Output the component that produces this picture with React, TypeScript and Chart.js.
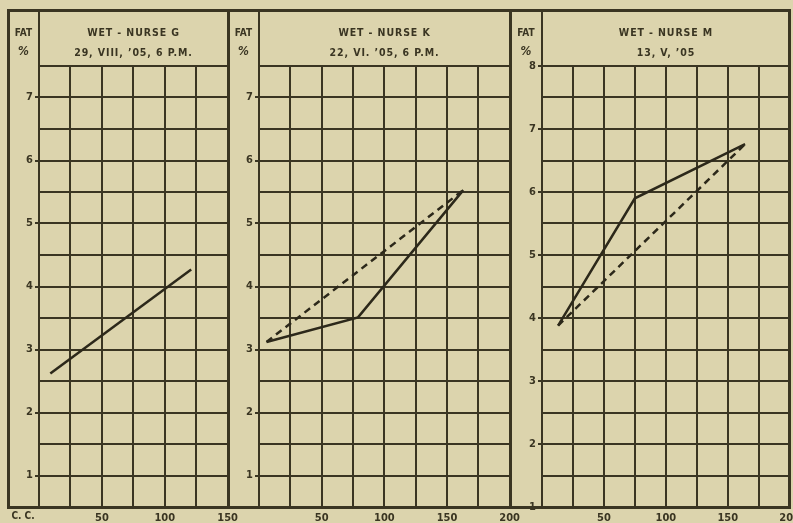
import { useEffect, useRef } from "react";
import { Chart, registerables, type ChartConfiguration } from "chart.js";

Chart.register(...registerables);

const INK = "#3a3522";
const LINE_INK = "#2c281a";
const PAPER = "#dcd4ad";
const FONT = "'DejaVu Sans Condensed', 'Liberation Sans Narrow', 'DejaVu Sans', sans-serif";

// volume drawn (c.c.) and fat %
const nurseGVolume = [9, 121];
const nurseGFat = [2.62, 4.27];

const nurseKVolume = [6, 79, 163];
const nurseKFat = [3.12, 3.51, 5.53];
const nurseKDashVolume = [6, 163];
const nurseKDashFat = [3.12, 5.53];

const nurseMVolume = [13, 75, 164];
const nurseMFat = [3.88, 5.9, 6.76];
const nurseMDashVolume = [13, 164];
const nurseMDashFat = [3.88, 6.76];

const xTickLabels = [50, 100, 150, 200];

type Series = { xs: number[]; ys: number[]; dashed?: boolean };

interface PanelProps {
  left: number;
  plotLeft: number;
  plotRight: number;
  xMax: number;
  yMin: number;
  yMax: number;
  title: string;
  subtitle: string;
  series: Series[];
}

const GRID_TOP = 66;
const GRID_BOTTOM = 507;
const CANVAS_TOP = 56;
const PAGE_H = 523;
const RIGHT_PAD = 15;

function Panel({ left, plotLeft, plotRight, xMax, yMin, yMax, title, subtitle, series }: PanelProps) {
  const canvasRef = useRef<HTMLCanvasElement>(null);

  useEffect(() => {
    if (!canvasRef.current) return;
    const config: ChartConfiguration<"line"> = {
      type: "line",
      data: {
        datasets: series.map((s) => ({
          data: s.xs.map((x, i) => ({ x, y: s.ys[i] })),
          borderColor: LINE_INK,
          borderWidth: 2.5,
          borderDash: s.dashed ? [7, 5] : [],
          pointRadius: 0,
          tension: 0,
          fill: false,
        })),
      },
      options: {
        responsive: true,
        maintainAspectRatio: false,
        animation: false,
        layout: { padding: { top: GRID_TOP - CANVAS_TOP, right: RIGHT_PAD, left: 0, bottom: 0 } },
        plugins: { legend: { display: false }, tooltip: { enabled: false } },
        scales: {
          x: {
            type: "linear",
            min: 0,
            max: xMax,
            afterFit: (scale) => {
              scale.height = PAGE_H - GRID_BOTTOM;
            },
            ticks: {
              stepSize: 25,
              autoSkip: false,
              maxRotation: 0,
              padding: 5,
              color: INK,
              font: { family: FONT, size: 11, weight: "bold" },
              callback: (v) => (xTickLabels.includes(Number(v)) ? String(v) : ""),
            },
            grid: { color: INK, lineWidth: 2, drawTicks: false },
            border: { display: true, color: INK, width: 2 },
          },
          y: {
            type: "linear",
            min: yMin,
            max: yMax,
            afterFit: (scale) => {
              scale.width = plotLeft - left;
            },
            ticks: {
              stepSize: 0.5,
              autoSkip: false,
              padding: 2,
              color: INK,
              font: { family: FONT, size: 11, weight: "bold" },
              callback: (v) => (Number.isInteger(Number(v)) ? String(v) : ""),
            },
            grid: {
              color: INK,
              lineWidth: 2,
              tickLength: 4,
              tickColor: (ctx) => (Number.isInteger(ctx.tick?.value) ? INK : "rgba(0,0,0,0)"),
            },
            border: { display: true, color: INK, width: 2 },
          },
        },
      },
    };
    const chart = new Chart(canvasRef.current, config);
    return () => chart.destroy();
  }, []);

  const width = plotRight - left + RIGHT_PAD;

  return (
    <>
      <div
        style={{
          position: "absolute",
          left,
          top: CANVAS_TOP,
          width,
          height: PAGE_H - CANVAS_TOP,
        }}
      >
        <canvas ref={canvasRef} />
      </div>
      {/* header text */}
      <div
        style={{
          position: "absolute",
          left: plotLeft,
          width: plotRight - plotLeft,
          top: 22,
          lineHeight: "20px",
          textAlign: "center",
          fontFamily: FONT,
          fontWeight: "bold",
          fontSize: 10.5,
          letterSpacing: 0.9,
          color: INK,
        }}
      >
        <div>{title}</div>
        <div>{subtitle}</div>
      </div>
      <div
        style={{
          position: "absolute",
          left,
          width: plotLeft - left,
          top: 23,
          lineHeight: "19px",
          textAlign: "center",
          fontFamily: FONT,
          fontWeight: "bold",
          fontSize: 10,
          color: INK,
        }}
      >
        <div>FAT</div>
        <div style={{ fontSize: 12, fontStyle: "italic" }}>%</div>
      </div>
      <div style={rule(plotLeft - 1, 10, 2, GRID_BOTTOM - 10)} />
    </>
  );
}

function rule(x: number, y: number, w: number, h: number): React.CSSProperties {
  return { position: "absolute", left: x, top: y, width: w, height: h, background: INK };
}

export default function App() {
  return (
    <div
      style={{
        position: "fixed",
        left: 0,
        top: 0,
        width: 793,
        height: 523,
        background: PAPER,
        overflow: "hidden",
      }}
    >
      <Panel
        left={8}
        plotLeft={39}
        plotRight={228}
        xMax={150}
        yMin={0.5}
        yMax={7.5}
        title="WET - NURSE G"
        subtitle="29, VIII, ’05, 6 P.M."
        series={[{ xs: nurseGVolume, ys: nurseGFat }]}
      />
      <Panel
        left={228}
        plotLeft={259}
        plotRight={510}
        xMax={200}
        yMin={0.5}
        yMax={7.5}
        title="WET - NURSE K"
        subtitle="22, VI. ’05, 6 P.M."
        series={[
          { xs: nurseKVolume, ys: nurseKFat },
          { xs: nurseKDashVolume, ys: nurseKDashFat, dashed: true },
        ]}
      />
      <Panel
        left={510}
        plotLeft={542}
        plotRight={790}
        xMax={200}
        yMin={1}
        yMax={8}
        title="WET - NURSE M"
        subtitle="13, V, ’05"
        series={[
          { xs: nurseMVolume, ys: nurseMFat },
          { xs: nurseMDashVolume, ys: nurseMDashFat, dashed: true },
        ]}
      />
      {/* outer frame and panel separators */}
      <div style={rule(7, 9, 784, 3)} />
      <div style={rule(7, 9, 3, GRID_BOTTOM - 8)} />
      <div style={rule(788, 9, 3, GRID_BOTTOM - 8)} />
      <div style={rule(7, GRID_BOTTOM - 1, 784, 3)} />
      <div style={rule(227, 9, 3, GRID_BOTTOM - 8)} />
      <div style={rule(509, 9, 3, GRID_BOTTOM - 8)} />
      <div
        style={{
          position: "absolute",
          left: 6,
          width: 34,
          top: 510,
          textAlign: "center",
          fontFamily: FONT,
          fontWeight: "bold",
          fontSize: 10,
          color: INK,
        }}
      >
        C. C.
      </div>
    </div>
  );
}
